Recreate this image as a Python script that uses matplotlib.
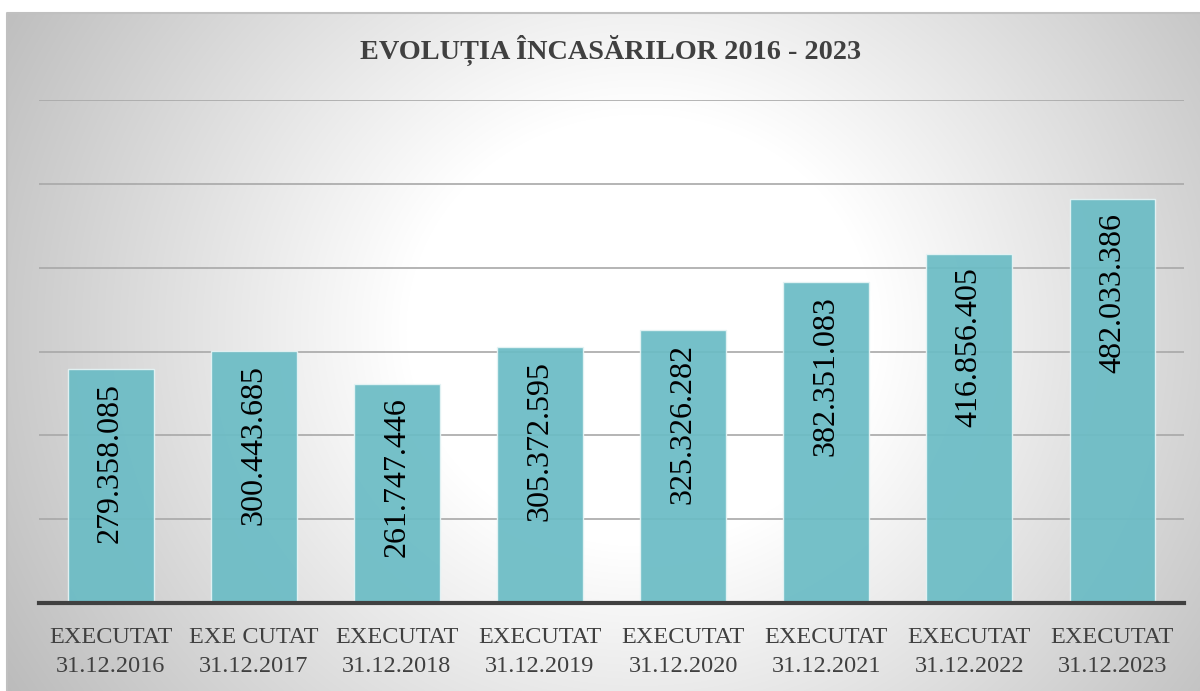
import numpy as np
import matplotlib
matplotlib.use("Agg")
import matplotlib.pyplot as plt

# data
categories = ["EXECUTAT\n31.12.2016", "EXE CUTAT\n31.12.2017", "EXECUTAT\n31.12.2018",
              "EXECUTAT\n31.12.2019", "EXECUTAT\n31.12.2020", "EXECUTAT\n31.12.2021",
              "EXECUTAT\n31.12.2022", "EXECUTAT\n31.12.2023"]
values = [279358085, 300443685, 261747446, 305372595,
          325326282, 382351083, 416856405, 482033386]
title = "EVOLUȚIA ÎNCASĂRILOR 2016 - 2023"

W, H = 1200, 691
fig = plt.figure(figsize=(W / 100, H / 100), dpi=100)

# radial grey gradient behind the chart
bg = fig.add_axes([0, 0, 1, 1])
bg.set_xlim(0, W)
bg.set_ylim(H, 0)
bg.axis("off")
yy, xx = np.mgrid[0:H, 0:W]
d = np.sqrt(((xx - 640) / 520.0) ** 2 + ((yy - 330) / 480.0) ** 2)
v = 255 - np.clip((d - 0.45) / 0.9, 0, 1.2) * 62
img = np.dstack([v, v, v]) / 255.0
img[:13, :] = 1.0
img[:, :7] = 1.0
bg.imshow(img, extent=(0, W, H, 0), aspect="auto", interpolation="bilinear")
bg.plot([7, 7, W], [H, 13, 13], color="#c0c0c0", lw=1.5)

# main axes
left, right, top, bottom = 39, 1184, 100, 603
ax = fig.add_axes([left / W, 1 - bottom / H, (right - left) / W, (bottom - top) / H])
ax.patch.set_alpha(0)
x = np.arange(len(values))
ax.set_xlim(-0.5, len(values) - 0.5)
ax.set_ylim(0, 600e6)
ax.set_yticks(np.arange(100e6, 601e6, 100e6))
ax.yaxis.grid(True, color="#a8a8a8", lw=1.2)
ax.set_axisbelow(True)
ax.tick_params(axis="y", left=False, labelleft=False)
ax.tick_params(axis="x", length=0, pad=17)
for s in ["top", "right", "left"]:
    ax.spines[s].set_visible(False)
ax.spines["bottom"].set_color("#404040")
ax.spines["bottom"].set_linewidth(3)

ax.bar(x, values, width=0.6, color="#6bbcc5", alpha=0.93,
       edgecolor="#e6f4f5", linewidth=1, zorder=2)

for xi, val in zip(x, values):
    lab = f"{val:,}".replace(",", ".")
    ax.annotate(lab, (xi, val), xytext=(0, -10), textcoords="offset points",
                rotation=90, ha="center", va="top", fontsize=23,
                family="Liberation Serif", color="black", zorder=3)

ax.set_xticks(x)
ax.set_xticklabels(categories, fontsize=17.5, family="Liberation Serif",
                   color="#404040", linespacing=1.5)

fig.text(611 / W, 1 - 50 / H, title, ha="center", va="center", fontsize=20.3,
         fontweight="bold", family="Liberation Serif", color="#404040")

fig.savefig("out.png", dpi=100)
